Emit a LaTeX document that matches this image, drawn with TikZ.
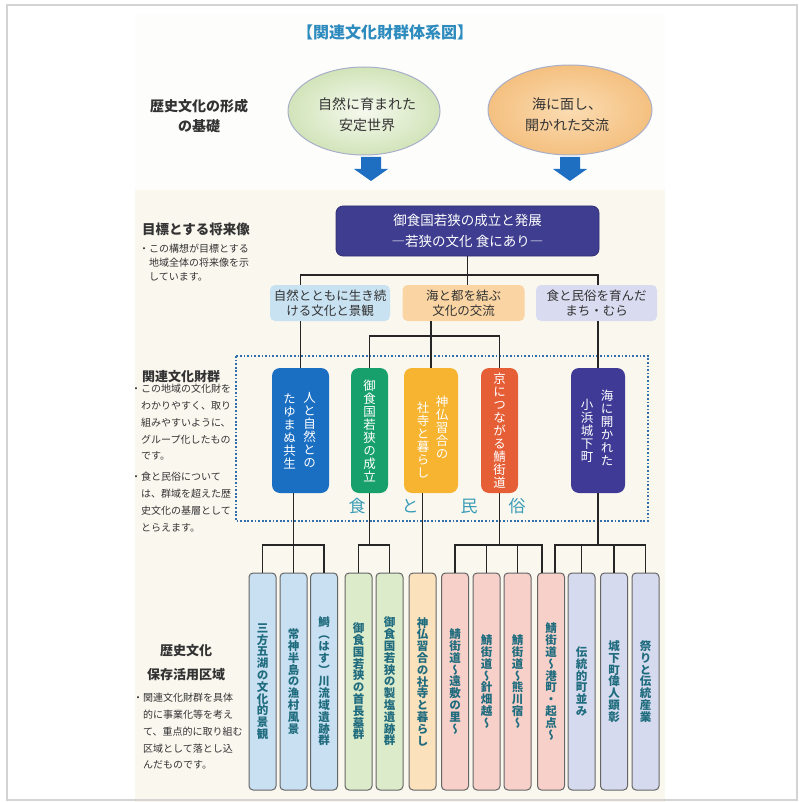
\documentclass[tikz,border=0pt]{standalone}
\usepackage{fontspec}
\setmainfont{Noto Sans CJK JP}
\newfontfamily\jpv[RawFeature=+vert]{Noto Sans CJK JP}
\usetikzlibrary{calc,shapes.geometric}
\definecolor{titleblue}{HTML}{2D8BBE}
\definecolor{txt}{HTML}{333333}
\definecolor{ellAin}{HTML}{F5F9EE}
\definecolor{ellAout}{HTML}{D2E4BA}
\definecolor{ellBin}{HTML}{FBDCB2}
\definecolor{ellBout}{HTML}{F4C080}
\definecolor{ellborder}{HTML}{A9AFC8}
\definecolor{arrowblue}{HTML}{1E6FC2}
\definecolor{mainfill}{HTML}{3E3D90}
\definecolor{catAc}{HTML}{C9E2F2}
\definecolor{catBc}{HTML}{FAD5A3}
\definecolor{catCc}{HTML}{D9DCF0}
\definecolor{gblue}{HTML}{1B6FC3}
\definecolor{ggreen}{HTML}{17A06B}
\definecolor{gyellow}{HTML}{F6B431}
\definecolor{gred}{HTML}{E65E36}
\definecolor{gpurple}{HTML}{3E3A96}
\definecolor{dotblue}{HTML}{2F6FAE}
\definecolor{shoku}{HTML}{3A9CB7}
\definecolor{cblue}{HTML}{C8E0F2}
\definecolor{cgreen}{HTML}{DCEBCA}
\definecolor{corange}{HTML}{FCE1BD}
\definecolor{cpink}{HTML}{F7D0C9}
\definecolor{clav}{HTML}{D6DAEE}
\definecolor{coltxt}{HTML}{1F6C7E}
\definecolor{panel}{HTML}{FAF7EF}
\definecolor{toppanel}{HTML}{FDFDFC}
\let\vend\relax
\def\vt#1{\vtA#1\vend}
\def\vtA#1#2\vend{#1\vtB#2\vend}
\def\vtB#1{\ifx#1\vend\else\\#1\expandafter\vtB\fi}
\tikzset{
  conn/.style={draw=black!85, line width=1.7pt},
  heading/.style={font=\bfseries\fontsize{13.5}{16}\selectfont, text=txt, inner sep=0pt},
  note/.style={font=\fontsize{10}{14}\selectfont, text=txt, align=left, inner sep=0pt, anchor=north west},
  ellipsebox/.style={ellipse, draw=ellborder, line width=1pt, inner sep=0pt},
  elltext/.style={font=\fontsize{14}{21}\selectfont, text=txt, align=center},
  mainbox/.style={rounded corners=7pt, fill=mainfill, draw=mainfill!80!black, line width=0.8pt,
    minimum width=263pt, minimum height=50pt, text=white, align=center,
    font=\fontsize{13.5}{21}\selectfont},
  catbox/.style={rounded corners=5pt, minimum height=36pt, inner sep=0pt, text=txt, align=center,
    font=\fontsize{12.5}{15}\selectfont},
  grp/.style={rounded corners=8pt, minimum height=125pt, inner sep=0pt, text=white, align=center,
    font=\jpv\fontsize{12.5}{13}\selectfont},
  gtext/.style={text=white, align=center, inner sep=0pt, font=\jpv\fontsize{12.5}{13}\selectfont},
  colbox/.style={draw=black!60, line width=1pt, rounded corners=4pt, minimum width=27pt,
    minimum height=217pt, inner sep=0pt, align=center, text=coltxt,
    font=\jpv\bfseries\fontsize{11.5}{11.8}\selectfont},
  shokutext/.style={text=shoku, font=\fontsize{17}{17}\selectfont, inner sep=0pt}
}
\begin{document}
\begin{tikzpicture}[x=1pt,y=-1pt]
\useasboundingbox (0,0) rectangle (798,802);
\fill[white] (0,0) rectangle (798,802);
\fill[toppanel] (135,14) rectangle (665,190);
\fill[panel] (135,190) rectangle (665,802);
\draw[black!17, line width=2pt] (7,5) rectangle (797,800);

% title
\node[font=\bfseries\fontsize{16}{18}\selectfont, text=titleblue] (title) at (385,32) {【関連文化財群体系図】};

% left labels
\node[heading, align=center, font=\bfseries\fontsize{14}{20}\selectfont] (lab1) at (199,116) {歴史文化の形成\\の基礎};
\node[heading, anchor=west] (lab2) at (142,229) {目標とする将来像};
\node[note] (lab2n) at (149,244) {\llap{・}この構想が目標とする\\地域全体の将来像を示\\しています。};
\node[heading, anchor=west, font=\bfseries\fontsize{13}{16}\selectfont] (lab3) at (142,377) {関連文化財群};
\node[note, font=\fontsize{10}{16.8}\selectfont] (lab3n) at (141,384) {\llap{・}この地域の文化財を\\わかりやすく、取り\\組みやすいように、\\グループ化したもの\\です。};
\node[note, font=\fontsize{10}{16.8}\selectfont] (lab3m) at (141,472) {\llap{・}食と民俗について\\は、群域を超えた歴\\史文化の基層として\\とらえます。};
\node[heading, align=center, font=\bfseries\fontsize{13}{24}\selectfont] (lab4) at (186,663) {歴史文化\\保存活用区域};
\node[note, font=\fontsize{10}{16.8}\selectfont] (lab4n) at (143,693) {\llap{・}関連文化財群を具体\\的に事業化等を考え\\て、重点的に取り組む\\区域として落とし込\\んだものです。};

% ellipses
\node[ellipsebox, minimum width=152pt, minimum height=88pt, inner color=ellAin, outer color=ellAout] (ellA) at (364,111) {};
\node[elltext] (ellAt) at (367,115) {自然に育まれた\\安定世界};
\node[ellipsebox, minimum width=164pt, minimum height=90pt, inner color=ellBin, outer color=ellBout] (ellB) at (570,110) {};
\node[elltext] (ellBt) at (567,115) {海に面し、\\開かれた交流};

% block arrows
\foreach \ax in {371,570}{
  \fill[arrowblue] (\ax-10,157) -- (\ax+10,157) -- (\ax+10,169) -- (\ax+17,169) -- (\ax,181)
    -- (\ax-17,169) -- (\ax-10,169) -- cycle;
}

% main box
\node[mainbox] (main) at (467.5,231) {御食国若狭の成立と発展\\―若狭の文化\ 食にあり―};

% category boxes
\node[catbox, fill=catAc, minimum width=120pt] (catA) at (330,303) {自然とともに生き続\\ける文化と景観};
\node[catbox, fill=catBc, minimum width=122pt] (catB) at (463.5,303) {海と都を結ぶ\\文化の交流};
\node[catbox, fill=catCc, minimum width=121pt] (catC) at (596.5,303) {食と民俗を育んだ\\まち・むら};

% dotted frame
\draw[dotblue, line width=2.6pt, dash pattern=on 1.7pt off 1.9pt] (236,356) rectangle (648,521);

% group boxes
\node[grp, fill=gblue, minimum width=57pt] (blue) at (300.5,430.5) {};
\node[gtext] (blueR) at (309.5,430) {\vt{人と自然との}};
\node[gtext] (blueL) at (289.5,431) {\vt{たゆまぬ共生}};
\node[grp, fill=ggreen, minimum width=37pt] (green) at (369.5,430.5) {\vt{御食国若狭の成立}};
\node[grp, fill=gyellow, minimum width=54pt] (yellow) at (431,430.5) {};
\node[gtext] (yelR) at (442,427) {\vt{神仏習合の}};
\node[gtext] (yelL) at (423,440) {\vt{社寺と暮らし}};
\node[grp, fill=gred, minimum width=37pt] (red) at (499.5,430.5) {\vt{京につながる鯖街道}};
\node[grp, fill=gpurple, minimum width=54pt] (purple) at (598,430.5) {};
\node[gtext] (purR) at (607,428) {\vt{海に開かれた}};
\node[gtext] (purL) at (587,431) {\vt{小浜城下町}};

% 食と民俗
\node[shokutext] (s1) at (357,506) {食};
\node[shokutext] (s2) at (410,506) {と};
\node[shokutext] (s3) at (469,506) {民};
\node[shokutext] (s4) at (517,506) {俗};

% bottom columns
\node[colbox, fill=cblue] (c1) at (262.5,681.5) {\vt{三方五湖の文化的景観}};
\node[colbox, fill=cblue] (c2) at (293.5,681.5) {\vt{常神半島の漁村風景}};
\node[colbox, fill=cblue] (c3) at (324,681.5) {\vt{鰣（はす）川流域遺跡群}};
\node[colbox, fill=cgreen] (c4) at (358.5,681.5) {\vt{御食国若狭の首長墓群}};
\node[colbox, fill=cgreen] (c5) at (389.5,681.5) {\vt{御食国若狭の製塩遺跡群}};
\node[colbox, fill=corange] (c6) at (422.5,681.5) {\vt{神仏習合の社寺と暮らし}};
\node[colbox, fill=cpink] (c7) at (455,681.5) {\vt{鯖街道〜遠敷の里〜}};
\node[colbox, fill=cpink] (c8) at (486.5,681.5) {\vt{鯖街道〜針畑越〜}};
\node[colbox, fill=cpink] (c9) at (517.5,681.5) {\vt{鯖街道〜熊川宿〜}};
\node[colbox, fill=cpink] (c10) at (551,681.5) {\vt{鯖街道〜港町・起点〜}};
\node[colbox, fill=clav] (c11) at (581.5,681.5) {\vt{伝統的町並み}};
\node[colbox, fill=clav] (c12) at (614,681.5) {\vt{城下町偉人顕彰}};
\node[colbox, fill=clav] (c13) at (645.5,681.5) {\vt{祭りと伝統産業}};

% connectors
\coordinate (hub) at (467.5,275);
\coordinate (hubB) at (431,336);
\coordinate (yb) at (0,545);
\coordinate (c10a) at ($(c10.north)+(-9,0)$);
\coordinate (c10b) at ($(c10.north)+(4,0)$);

\draw[conn] (main.south) -- (catB.north -| main.south);
\draw[conn] (catA.north -| blue.north) |- (hub) -| (catC.north -| purple.north);
\draw[conn] (catA.south -| blue.north) -- (blue.north);
\draw[conn] (catB.south -| yellow.north) -- (yellow.north);
\draw[conn] (green.north) |- (hubB) -| (red.north);
\draw[conn] (catC.south -| purple.north) -- (purple.north);

\draw[conn] (blue.south -| c2.north) -- (c2.north);
\draw[conn] (c1.north) |- (c3.north |- yb) -- (c3.north);
\draw[conn] (green.south) -- (green.south |- yb);
\draw[conn] (c4.north) |- (c5.north |- yb) -- (c5.north);
\draw[conn] (yellow.south -| c6.north) -- (c6.north);
\draw[conn] (red.south) -- (red.south |- yb);
\draw[conn] (c7.north) |- (c10a |- yb) -- (c10a);
\draw[conn] (c8.north) -- (c8.north |- yb);
\draw[conn] (c9.north) -- (c9.north |- yb);
\draw[conn] (purple.south) -- (purple.south |- yb);
\draw[conn] (c10b) |- (c13.north |- yb) -- (c13.north);
\draw[conn] (c11.north) -- (c11.north |- yb);
\draw[conn] (c12.north) -- (c12.north |- yb);
\end{tikzpicture}
\end{document}
